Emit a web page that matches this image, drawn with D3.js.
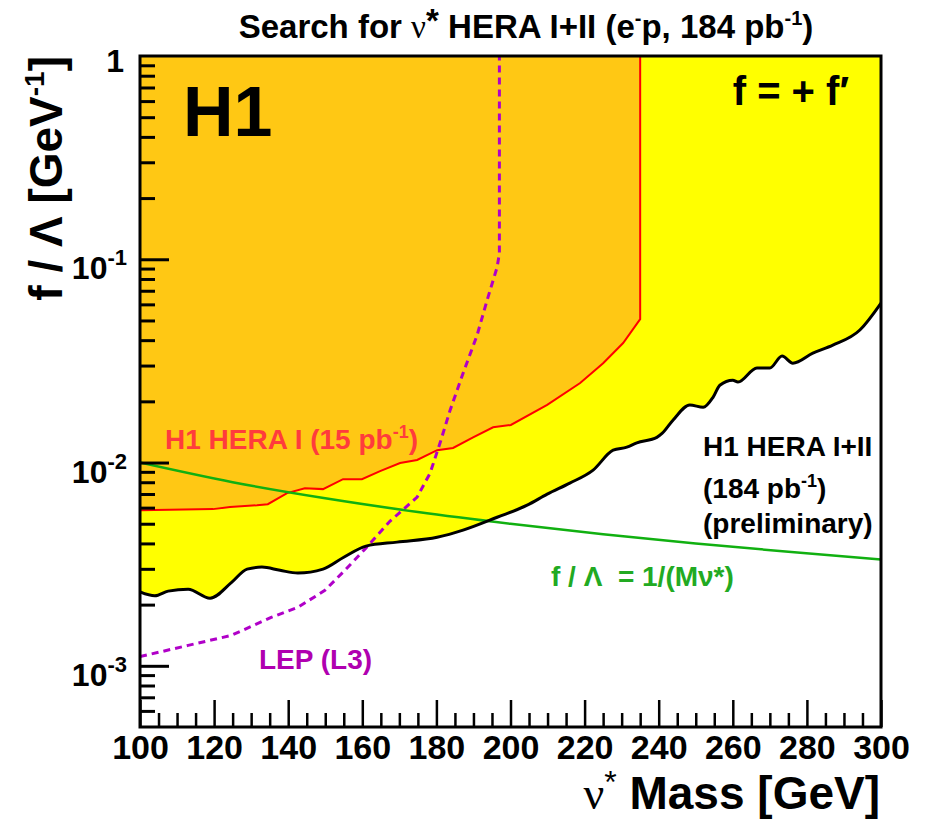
<!DOCTYPE html>
<html>
<head>
<meta charset="utf-8">
<script src="https://cdn.jsdelivr.net/npm/d3@7"></script>
<style>
  body { margin: 0; background: #fff; }
  text { font-family: "Liberation Sans", Arial, sans-serif; }
</style>
</head>
<body>
<div id="chart"></div>
<script>
// H1 HERA I+II limit (184 pb-1), lower edge of the yellow band
var heraMass  = [100, 104, 107.6, 113, 118.9, 124.8, 128.9, 132.9, 137.8, 142.6, 149.4, 155, 161, 169.4,
                 180.2, 187.2, 196.4, 204.5, 209.9, 216, 222.3, 227.7, 231.4, 234.1, 239.5, 240.9, 243.9,
                 248.4, 252, 254.7, 256.5, 260, 261.4, 266.5, 270, 273.3, 276.2, 281.6, 287, 294.3, 300];
var heraLimit = [2.31e-3, 2.21e-3, 2.33e-3, 2.38e-3, 2.15e-3, 2.58e-3, 2.99e-3, 3.06e-3, 2.95e-3, 2.86e-3,
                 2.99e-3, 3.42e-3, 3.88e-3, 4.06e-3, 4.29e-3, 4.65e-3, 5.38e-3, 6.17e-3, 6.99e-3, 7.92e-3,
                 9.18e-3, 1.15e-2, 1.19e-2, 1.25e-2, 1.33e-2, 1.39e-2, 1.62e-2, 1.92e-2, 1.87e-2, 2.10e-2,
                 2.40e-2, 2.54e-2, 2.49e-2, 2.92e-2, 2.92e-2, 3.34e-2, 3.08e-2, 3.45e-2, 3.78e-2, 4.49e-2, 6.09e-2];

// H1 HERA I limit (15 pb-1)
var hera1Mass  = [100, 119.7, 124.3, 131.6, 134.5, 139.7, 144.5, 149.4, 154.8, 159.9, 164.8, 170.2, 174.8,
                  180.2, 184.5, 189.9, 195.3, 200.1, 209.9, 218.8, 225, 230.4, 235, 235];
var hera1Limit = [5.83e-3, 5.9e-3, 6.04e-3, 6.17e-3, 6.24e-3, 7.07e-3, 7.48e-3, 7.4e-3, 8.28e-3, 8.28e-3,
                  9.07e-3, 9.94e-3, 1.03e-2, 1.15e-2, 1.18e-2, 1.33e-2, 1.49e-2, 1.53e-2, 1.92e-2, 2.46e-2,
                  3.08e-2, 3.87e-2, 5.08e-2, 1];

// LEP (L3) limit
var lepMass  = [100, 113, 124.6, 135.4, 142.6, 149.9, 155.3, 160.7, 167.5, 174.8, 178.3, 181, 183.7, 187.2,
                191, 193.7, 196.4, 197, 197];
var lepLimit = [1.11e-3, 1.26e-3, 1.41e-3, 1.73e-3, 1.94e-3, 2.35e-3, 2.95e-3, 3.75e-3, 5.15e-3, 6.76e-3,
                8.87e-3, 1.25e-2, 1.81e-2, 2.75e-2, 4.24e-2, 6.3e-2, 9.16e-2, 0.107, 1];

// f / Lambda = 1/M line
var lineMass  = [100, 125, 150, 175, 200, 225, 250, 275, 300];
var lineValue = [0.01, 0.008, 0.00667, 0.00571, 0.005, 0.00444, 0.004, 0.00364, 0.00333];

var xTickLabels = [100, 120, 140, 160, 180, 200, 220, 240, 260, 280, 300];
var yDecades = [1e-3, 1e-2, 1e-1, 1];
var yDecadeExp = ["-3", "-2", "-1", ""];

(function (d3) {

  var W = 925, H = 821;
  var pLeft = 140, pRight = 881, pTop = 56, pBottom = 727;

  var svg = d3.select("#chart").append("svg")
      .attr("width", W)
      .attr("height", H);

  var x = d3.scaleLinear().domain([100, 300]).range([pLeft, pRight]);
  var y = d3.scaleLog().domain([5e-4, 1]).range([pBottom, pTop]);

  svg.append("defs").append("clipPath").attr("id", "plotclip")
    .append("rect")
      .attr("x", pLeft).attr("y", pTop)
      .attr("width", pRight - pLeft).attr("height", pBottom - pTop);

  var plot = svg.append("g").attr("clip-path", "url(#plotclip)");

  var hera = heraMass.map(function(m, i) { return [m, heraLimit[i]]; });
  var hera1 = hera1Mass.map(function(m, i) { return [m, hera1Limit[i]]; });
  var lep = lepMass.map(function(m, i) { return [m, lepLimit[i]]; });
  var fline = lineMass.map(function(m, i) { return [m, lineValue[i]]; });

  // yellow excluded band (HERA I+II)
  plot.append("path").datum(hera)
      .attr("fill", "#ffff00")
      .attr("d", d3.area()
          .x(function(d) { return x(d[0]); })
          .y0(y(1))
          .y1(function(d) { return y(d[1]); })
          .curve(d3.curveMonotoneX));

  // orange HERA I band
  plot.append("path").datum(hera1)
      .attr("fill", "#ffc814")
      .attr("d", d3.area()
          .x(function(d) { return x(d[0]); })
          .y0(y(1))
          .y1(function(d) { return y(d[1]); }));

  var line = d3.line()
      .x(function(d) { return x(d[0]); })
      .y(function(d) { return y(d[1]); });

  var smooth = d3.line()
      .x(function(d) { return x(d[0]); })
      .y(function(d) { return y(d[1]); })
      .curve(d3.curveMonotoneX);

  plot.append("path").datum(hera1)
      .attr("fill", "none")
      .attr("stroke", "#ff0000")
      .attr("stroke-width", 2)
      .attr("d", line);

  plot.append("path").datum(lep)
      .attr("fill", "none")
      .attr("stroke", "#b000c8")
      .attr("stroke-width", 3)
      .attr("stroke-dasharray", "7,5")
      .attr("d", line);

  plot.append("path").datum(fline)
      .attr("fill", "none")
      .attr("stroke", "#11b011")
      .attr("stroke-width", 2.5)
      .attr("d", smooth);

  plot.append("path").datum(hera)
      .attr("fill", "none")
      .attr("stroke", "#000")
      .attr("stroke-width", 3)
      .attr("d", smooth);

  // axes: ticks point inward
  var yMinor = [];
  yDecades.slice(0, 3).forEach(function(d) { for (var k = 2; k <= 9; k++) yMinor.push(d * k); });
  yMinor.push(6e-4, 7e-4, 8e-4, 9e-4);

  svg.append("g")
      .attr("class", "axis")
      .attr("transform", "translate(" + pLeft + ",0)")
      .call(d3.axisRight(y).tickValues(yMinor).tickSize(15).tickFormat(""));
  svg.append("g")
      .attr("class", "axis")
      .attr("transform", "translate(" + pLeft + ",0)")
      .call(d3.axisRight(y).tickValues(yDecades.slice(0, 3)).tickSize(29).tickFormat(""));

  var xMinor = d3.range(105, 300, 5).filter(function(v) { return v % 20 !== 0; });
  svg.append("g")
      .attr("class", "axis xaxis")
      .attr("transform", "translate(0," + pBottom + ")")
      .call(d3.axisTop(x).tickValues(xMinor).tickSize(14).tickFormat(""));
  svg.append("g")
      .attr("class", "axis xaxis")
      .attr("transform", "translate(0," + pBottom + ")")
      .call(d3.axisTop(x).tickValues(xTickLabels).tickSize(27).tickFormat(""));

  svg.selectAll(".axis .domain").remove();
  svg.selectAll(".axis line").attr("stroke", "#000").attr("stroke-width", 3);
  svg.selectAll(".xaxis line").attr("stroke-width", 2.5);

  // frame
  svg.append("rect")
      .attr("x", pLeft).attr("y", pTop)
      .attr("width", pRight - pLeft).attr("height", pBottom - pTop)
      .attr("fill", "none")
      .attr("stroke", "#000")
      .attr("stroke-width", 3);

  // x tick labels
  var xl = svg.append("g")
      .attr("transform", "translate(0," + pBottom + ")")
      .call(d3.axisBottom(x).tickValues(xTickLabels).tickSize(0).tickPadding(8));
  xl.select(".domain").remove();
  xl.selectAll("text")
      .attr("font-family", "Liberation Sans, Arial, sans-serif")
      .attr("font-size", 34)
      .attr("font-weight", "bold")
      .attr("fill", "#000")
      .attr("dy", "0.71em");

  // y tick labels
  yDecades.forEach(function(d, i) {
    var t = svg.append("text")
        .attr("font-size", 32)
        .attr("font-weight", "bold")
        .attr("text-anchor", "end");
    if (yDecadeExp[i] === "") {
      t.attr("x", 124).attr("y", y(d) + 16).text("1");
    } else {
      t.attr("x", 127).attr("y", y(d) + 20);
      t.append("tspan").text("10");
      t.append("tspan").attr("font-size", 22).attr("dy", -14).text(yDecadeExp[i]);
    }
  });

  // title
  var title = svg.append("text")
      .attr("x", 526).attr("y", 38)
      .attr("text-anchor", "middle")
      .attr("font-size", 33)
      .attr("font-weight", "bold");
  title.append("tspan").text("Search for ");
  title.append("tspan").attr("font-family", "Liberation Serif, serif").attr("font-weight", "normal").text("\u03bd");
  title.append("tspan").attr("dy", -6).text("*");
  title.append("tspan").attr("dy", 6).text(" HERA I+II (e");
  title.append("tspan").attr("font-size", 20).attr("dy", -13).text("-");
  title.append("tspan").attr("dy", 13).text("p, 184 pb");
  title.append("tspan").attr("font-size", 20).attr("dy", -13).text("-1");
  title.append("tspan").attr("dy", 13).text(")");

  // y axis title
  var ytitle = svg.append("text")
      .attr("transform", "translate(62,56) rotate(-90)")
      .attr("text-anchor", "end")
      .attr("font-size", 46)
      .attr("font-weight", "bold");
  ytitle.append("tspan").text("f / \u039b [GeV");
  ytitle.append("tspan").attr("font-size", 28).attr("dy", -18).text("-1");
  ytitle.append("tspan").attr("dy", 18).text("]");

  // x axis title
  var xtitle = svg.append("text")
      .attr("x", 880).attr("y", 809)
      .attr("text-anchor", "end")
      .attr("font-size", 46)
      .attr("font-weight", "bold");
  xtitle.append("tspan").attr("font-family", "Liberation Serif, serif").attr("font-weight", "normal").text("\u03bd");
  xtitle.append("tspan").attr("font-weight", "normal").attr("font-size", 32).attr("dy", -16).text("*");
  xtitle.append("tspan").attr("dy", 16).text(" Mass [GeV]");

  // labels inside the plot
  svg.append("text")
      .attr("x", 183).attr("y", 136)
      .attr("font-size", 70)
      .attr("font-weight", "bold")
      .text("H1");

  svg.append("text")
      .attr("x", 849).attr("y", 105)
      .attr("text-anchor", "end")
      .attr("font-size", 40)
      .attr("font-weight", "bold")
      .text("f = + f\u2032");

  var red = svg.append("text")
      .attr("x", 165).attr("y", 449)
      .attr("font-size", 28)
      .attr("font-weight", "bold")
      .attr("fill", "#ff3c3c");
  red.append("tspan").text("H1 HERA I (15 pb");
  red.append("tspan").attr("font-size", 18).attr("dy", -11).text("-1");
  red.append("tspan").attr("dy", 11).text(")");

  svg.append("text")
      .attr("x", 703).attr("y", 456)
      .attr("font-size", 28)
      .attr("font-weight", "bold")
      .text("H1 HERA I+II");
  var lum = svg.append("text")
      .attr("x", 703).attr("y", 498)
      .attr("font-size", 28)
      .attr("font-weight", "bold");
  lum.append("tspan").text("(184 pb");
  lum.append("tspan").attr("font-size", 18).attr("dy", -11).text("-1");
  lum.append("tspan").attr("dy", 11).text(")");
  svg.append("text")
      .attr("x", 703).attr("y", 533)
      .attr("font-size", 28)
      .attr("font-weight", "bold")
      .text("(preliminary)");

  svg.append("text")
      .attr("x", 551).attr("y", 586)
      .attr("font-size", 28)
      .attr("font-weight", "bold")
      .attr("fill", "#22aa22")
      .attr("xml:space", "preserve")
      .text("f / \u039b  = 1/(M\u03bd*)");

  svg.append("text")
      .attr("x", 259).attr("y", 669)
      .attr("font-size", 28)
      .attr("font-weight", "bold")
      .attr("fill", "#b000b0")
      .text("LEP (L3)");

})(d3);
</script>
</body>
</html>
